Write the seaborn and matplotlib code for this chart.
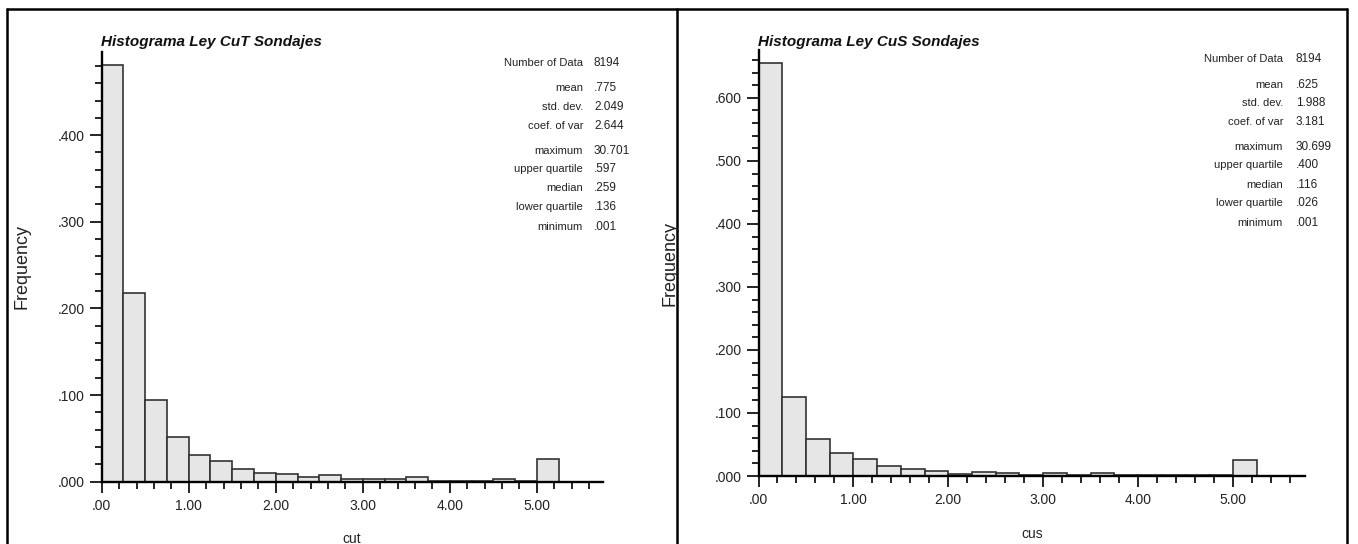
import numpy as np
import pandas as pd
import matplotlib
matplotlib.use("Agg")
import matplotlib.pyplot as plt
import seaborn as sns
from matplotlib.ticker import MultipleLocator, FuncFormatter
from matplotlib.lines import Line2D

# ---- data ----
bin_edges = [i * 0.25 for i in range(22)]  # 0.00 .. 5.25
cut_freq = [0.481, 0.2175, 0.0946, 0.0513, 0.0308, 0.0236, 0.0152, 0.0104, 0.0088,
            0.0060, 0.0076, 0.0032, 0.0030, 0.0030, 0.0050, 0.0013, 0.0010, 0.0010,
            0.0030, 0.0012, 0.0264]
cus_freq = [0.655, 0.125, 0.059, 0.036, 0.027, 0.0154, 0.011, 0.0076, 0.0038,
            0.0060, 0.0040, 0.0020, 0.0040, 0.0020, 0.0040, 0.0015, 0.0015, 0.0015,
            0.0015, 0.0015, 0.0247]

stat_labels = ["Number of Data", "mean", "std. dev.", "coef. of var",
               "maximum", "upper quartile", "median", "lower quartile", "minimum"]
cut_stats = ["8194", ".775", "2.049", "2.644", "30.701", ".597", ".259", ".136", ".001"]
cus_stats = ["8194", ".625", "1.988", "3.181", "30.699", ".400", ".116", ".026", ".001"]

titles = ["Histograma Ley CuT Sondajes", "Histograma Ley CuS Sondajes"]
xlabels = ["cut", "cus"]
ylabel = "Frequency"

# ---- style ----
sns.set_style("ticks")
plt.rcParams['font.family'] = ['Liberation Sans', 'DejaVu Sans']

W, H = 1358, 544
fig = plt.figure(figsize=(W / 100, H / 100), dpi=100)


def fx(x):
    return x / W


def fy(y):
    return 1 - y / H


def make_axes(x0, x1, ytop, ybase):
    return fig.add_axes([fx(x0), fy(ybase), (x1 - x0) / W, (ybase - ytop) / H])


panels = [
    dict(ax=make_axes(101.7, 603, 52, 481.7), freq=cut_freq, ymax=0.496,
         stats=cut_stats, lab_x=583, val_x=594, stat_y0=62.7,
         title_x=101, title_y=42, xl=(352, 539), yl=(22, 267)),
    dict(ax=make_axes(758.5, 1305, 50, 476), freq=cus_freq, ymax=0.676,
         stats=cus_stats, lab_x=1283, val_x=1296, stat_y0=59,
         title_x=758, title_y=42, xl=(1032, 534), yl=(670, 263)),
]

stat_offsets = [0, 25.5, 44, 63, 88, 106.5, 125.5, 144.5, 164]

centers = [e + 0.125 for e in bin_edges[:-1]]


def xfmt(v, pos):
    s = f"{v:.2f}"
    return s[1:] if s.startswith("0.") else s


def yfmt(v, pos):
    s = f"{v:.3f}"
    return s[1:] if s.startswith("0.") else s


for i, p in enumerate(panels):
    ax = p["ax"]
    df = pd.DataFrame({"x": centers, "f": p["freq"]})
    sns.histplot(data=df, x="x", weights="f", bins=bin_edges, ax=ax,
                 color="#e6e6e6", edgecolor="#333333", linewidth=1.2, alpha=1)
    ax.set_xlim(0, 5.76)
    ax.set_ylim(0, p["ymax"])
    ax.set_xlabel("")
    ax.set_ylabel("")
    for s in ["top", "right"]:
        ax.spines[s].set_visible(False)
    for s in ["left", "bottom"]:
        ax.spines[s].set_linewidth(1.7)
        ax.spines[s].set_color("black")
    ax.xaxis.set_major_locator(MultipleLocator(1.0))
    ax.xaxis.set_minor_locator(MultipleLocator(0.2))
    ax.yaxis.set_major_locator(MultipleLocator(0.1))
    ax.yaxis.set_minor_locator(MultipleLocator(0.02))
    ax.xaxis.set_major_formatter(FuncFormatter(xfmt))
    ax.yaxis.set_major_formatter(FuncFormatter(yfmt))
    ax.tick_params(axis="x", which="major", length=8, width=1.2, direction="out",
                   pad=4.5, labelsize=10, colors="black", labelcolor="#222222")
    ax.tick_params(axis="x", which="minor", length=4.7, width=1.2, direction="out", colors="black")
    ax.tick_params(axis="y", which="major", length=9, width=1.2, direction="out",
                   pad=3, labelsize=10, colors="black", labelcolor="#222222")
    ax.tick_params(axis="y", which="minor", length=5, width=1.2, direction="out", colors="black")
    ax.set_facecolor("white")

    fig.text(fx(p["title_x"]), fy(p["title_y"]), titles[i], fontsize=11,
             fontweight="bold", fontstyle="italic", ha="left", va="center", color="#111111")
    for lab, val, off in zip(stat_labels, p["stats"], stat_offsets):
        y = p["stat_y0"] + off
        fig.text(fx(p["lab_x"]), fy(y), lab, fontsize=8, ha="right", va="center", color="#222222")
        fig.text(fx(p["val_x"]), fy(y), val, fontsize=8.5, ha="left", va="center", color="#222222")
    fig.text(fx(p["xl"][0]), fy(p["xl"][1]), xlabels[i], fontsize=10, ha="center",
             va="center", color="#222222")
    fig.text(fx(p["yl"][0]), fy(p["yl"][1]), ylabel, fontsize=13, ha="center",
             va="center", rotation=90, color="#222222")

# outer frame lines
frame_kw = dict(color="black", linewidth=1.8, transform=fig.transFigure)
fig.add_artist(Line2D([fx(7), fx(1347)], [fy(9), fy(9)], **frame_kw))
fig.add_artist(Line2D([fx(7), fx(7)], [fy(9), 0], **frame_kw))
fig.add_artist(Line2D([fx(1347), fx(1347)], [fy(9), 0], **frame_kw))
fig.add_artist(Line2D([fx(677), fx(677)], [fy(9), 0], **frame_kw))

fig.savefig("out.png", dpi=100, facecolor="white")
